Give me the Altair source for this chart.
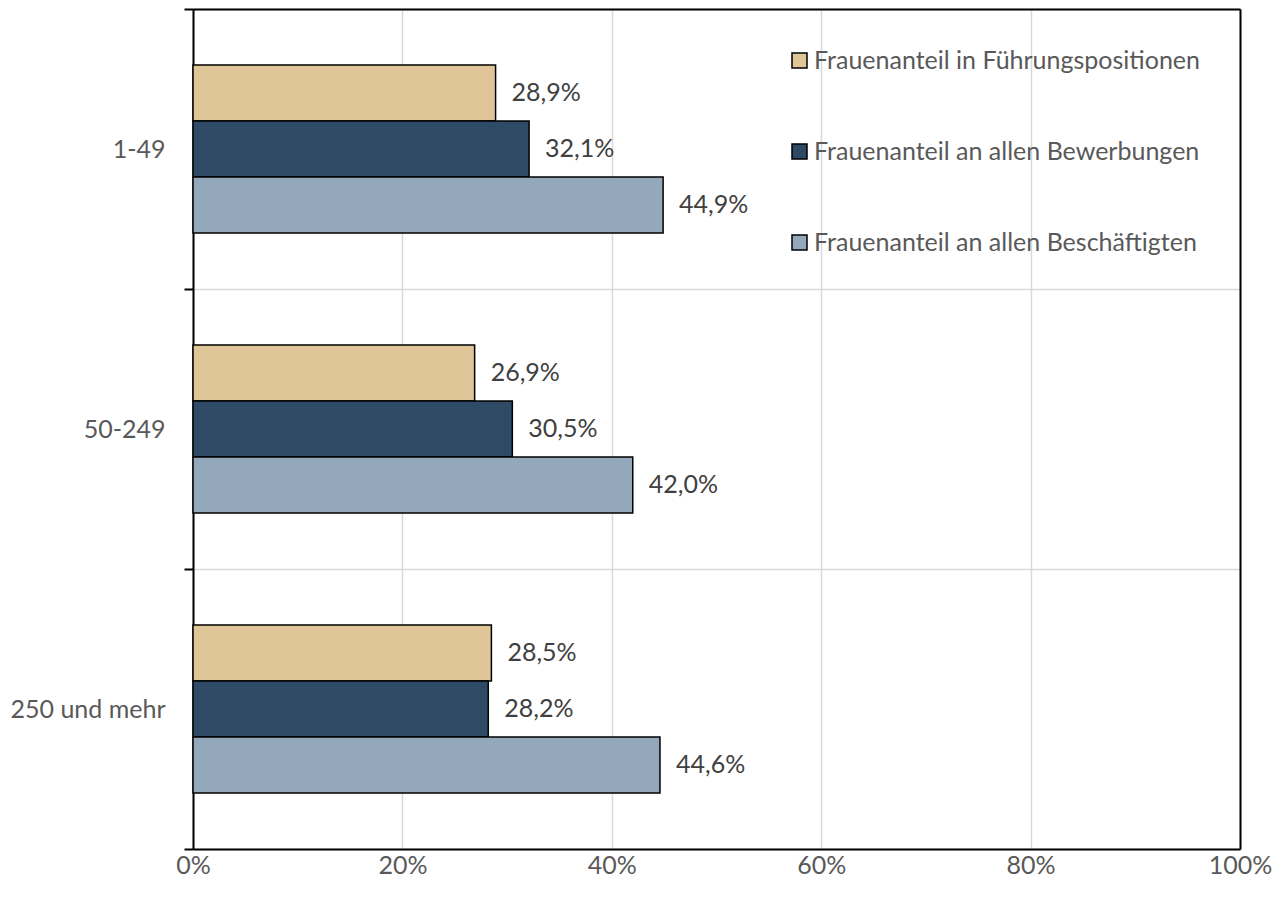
import altair as alt
import pandas as pd

categories = ["1-49", "50-249", "250 und mehr"]
series = [
    "Frauenanteil in Führungspositionen",
    "Frauenanteil an allen Bewerbungen",
    "Frauenanteil an allen Beschäftigten",
]
fuehrung = [28.9, 26.9, 28.5]
bewerbungen = [32.1, 30.5, 28.2]
beschaeftigte = [44.9, 42.0, 44.6]
colors = ["#DFC598", "#2F4A65", "#94A8BC"]
x_ticks = [0, 20, 40, 60, 80, 100]

rows = []
for i, c in enumerate(categories):
    for s, vals in zip(series, [fuehrung, bewerbungen, beschaeftigte]):
        rows.append({"Groesse": c, "Reihe": s, "Wert": vals[i]})
df = pd.DataFrame(rows)

FONT = "Lato"
FS = 25

y_scale = alt.Scale(paddingInner=0, paddingOuter=0)
x_scale = alt.Scale(domain=[0, 100], nice=False)

y_enc = alt.Y(
    "Groesse:N",
    sort=categories,
    scale=y_scale,
    axis=alt.Axis(
        title=None,
        orient="left",
        tickBand="extent",
        domain=True,
        domainColor="black",
        domainWidth=2,
        ticks=True,
        tickColor="black",
        tickWidth=2,
        tickSize=9,
        labelFontSize=FS,
        labelFont=FONT,
        labelColor="#595959",
        labelPadding=19,
        grid=True,
        gridColor="#d9d9d9",
        gridWidth=1.5,
    ),
)
yoff_enc = alt.YOffset(
    "Reihe:N", sort=series, scale=alt.Scale(paddingInner=0, paddingOuter=1)
)
x_enc = alt.X(
    "Wert:Q",
    scale=x_scale,
    axis=alt.Axis(
        title=None,
        orient="bottom",
        values=x_ticks,
        labelExpr="datum.value + '%'",
        labelFlush=False,
        ticks=False,
        domain=True,
        domainColor="black",
        domainWidth=2,
        labelFontSize=FS,
        labelFont=FONT,
        labelColor="#595959",
        labelPadding=4,
        grid=True,
        gridColor="#d9d9d9",
        gridWidth=1.5,
    ),
)

# frame axes (top / right) drawn black over the grid
y_enc2 = alt.Y(
    "Groesse:N",
    sort=categories,
    scale=y_scale,
    axis=alt.Axis(
        title=None, orient="right", labels=False, ticks=False, grid=False,
        domain=True, domainColor="black", domainWidth=2,
    ),
)
x_enc2 = alt.X(
    "Wert:Q",
    scale=x_scale,
    axis=alt.Axis(
        title=None, orient="top", labels=False, ticks=False, grid=False,
        domain=True, domainColor="black", domainWidth=2,
    ),
)

bars = alt.Chart(df).mark_bar(stroke="black", strokeWidth=1.5, opacity=1).encode(
    y=y_enc,
    yOffset=yoff_enc,
    x=x_enc,
    color=alt.Color(
        "Reihe:N",
        sort=series,
        scale=alt.Scale(domain=series, range=colors),
        legend=alt.Legend(
            title=None,
            orient="none",
            legendX=594,
            legendY=39,
            symbolType="square",
            symbolSize=225,
            symbolStrokeColor="black",
            symbolStrokeWidth=1.5,
            symbolOpacity=1,
            labelFontSize=FS,
            labelFont=FONT,
            labelColor="#595959",
            labelOffset=2,
            rowPadding=65,
            padding=0,
            labelLimit=600,
        ),
    ),
)

labels = (
    alt.Chart(df)
    .transform_calculate(label="replace(format(datum.Wert, '.1f'), '.', ',') + '%'")
    .mark_text(align="left", baseline="middle", dx=16, fontSize=FS, font=FONT, color="#404040")
    .encode(y=y_enc2, yOffset=yoff_enc, x=x_enc2, text="label:N")
)

chart = (
    alt.layer(bars, labels)
    .resolve_axis(x="independent", y="independent")
    .properties(
        width=1047,
        height=840,
        autosize=alt.AutoSizeParams(type="none"),
        padding={"left": 185, "top": 1, "right": 35, "bottom": 40},
    )
    .configure_view(stroke="black", strokeWidth=2)
    .configure(background="white")
)

chart.save("out.html", embed_options={"renderer": "svg", "actions": False})
